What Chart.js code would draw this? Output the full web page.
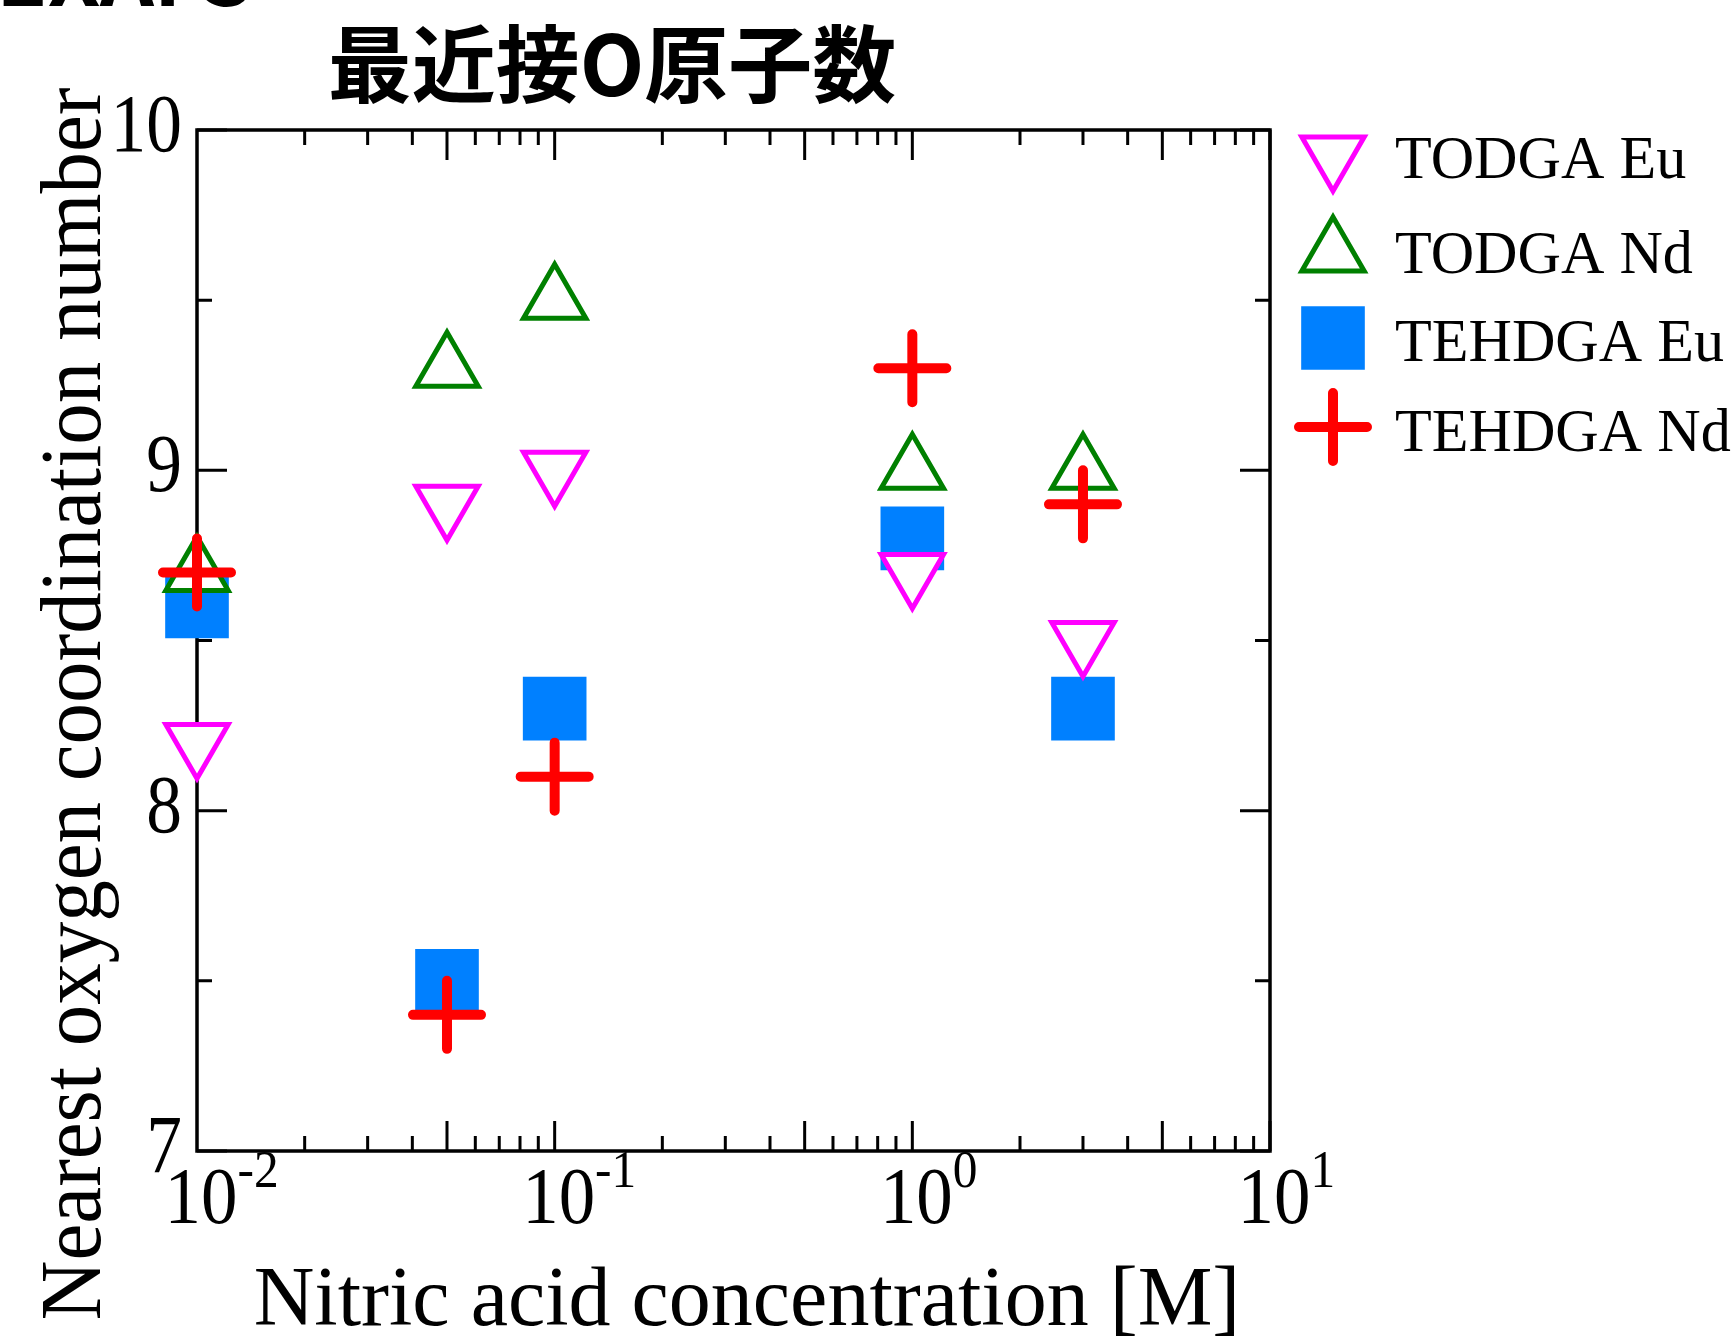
<!DOCTYPE html>
<html>
<head>
<meta charset="utf-8">
<title>最近接O原子数</title>
<script src="https://cdn.jsdelivr.net/npm/chart.js@4.4.1/dist/chart.umd.min.js"></script>
<style>
  html, body { margin: 0; padding: 0; background: #fff; }
  #wrap { width: 1736px; height: 1337px; position: relative; }
</style>
</head>
<body>
<div id="wrap"><canvas id="grafico"></canvas></div>
<script>
// nitric acid concentration [M]
const conc = [0.01, 0.05, 0.1, 1, 3];
// nearest oxygen coordination number
const todgaEu = [8.2, 8.9, 9.0, 8.7, 8.5];
const todgaNd = [8.7, 9.3, 9.5, 9.0, 9.0];
const tehdgaEu = [8.6, 7.5, 8.3, 8.8, 8.3];
const tehdgaNd = [8.7, 7.4, 8.1, 9.3, 8.9];
const seriesNames = ['TODGA Eu', 'TODGA Nd', 'TEHDGA Eu', 'TEHDGA Nd'];

const xDecades = [0.01, 0.1, 1, 10];
const xExponents = ['-2', '-1', '0', '1'];
const yTicks = [7, 8, 9, 10];
const yLabels = ['7', '8', '9', '10'];

const titleText = '最近接O原子数';
const topText = 'EXAFS';
const xTitle = 'Nitric acid concentration [M]';
const yTitle = 'Nearest oxygen coordination number';

const serif = '"Liberation Serif", "Times New Roman", serif';
const gothic = '"Noto Sans CJK JP", "Noto Sans", sans-serif';

function pts(ys) {
    return conc.map((x, i) => ({ x: x, y: ys[i] }));
}

// marker look, same in plot and legend
const styles = [
    { pointStyle: 'triangle', rotation: 180, radius: 36, borderWidth: 5, borderColor: '#ff00ff', backgroundColor: '#ffffff', order: 1 },
    { pointStyle: 'triangle', rotation: 0, radius: 36, borderWidth: 5, borderColor: '#008000', backgroundColor: '#ffffff', order: 2 },
    { pointStyle: 'rect', rotation: 0, radius: 45, borderWidth: 0, borderColor: '#0080ff', backgroundColor: '#0080ff', order: 3 },
    { pointStyle: 'cross', rotation: 0, radius: 34, borderWidth: 10, borderColor: '#ff0000', backgroundColor: '#ff0000', order: 0 }
];
const seriesData = [todgaEu, todgaNd, tehdgaEu, tehdgaNd];

function text(ctx, str, x, y, font, align, sx) {
    ctx.save();
    ctx.font = font;
    ctx.textAlign = align;
    ctx.textBaseline = 'alphabetic';
    ctx.fillStyle = '#000';
    ctx.translate(x, y);
    ctx.scale(sx || 1, 1);
    ctx.fillText(str, 0, 0);
    ctx.restore();
}

function textWidth(ctx, str, font, sx) {
    ctx.save();
    ctx.font = font;
    const w = ctx.measureText(str).width * (sx || 1);
    ctx.restore();
    return w;
}

const framePlugin = {
    id: 'frame',
    beforeDatasetsDraw(chart) {
        const ctx = chart.ctx;
        const a = chart.chartArea;
        const xs = chart.scales.x;
        const ys = chart.scales.y;
        ctx.save();
        ctx.strokeStyle = '#000';
        ctx.lineWidth = 3;
        ctx.beginPath();
        for (let e = -2; e < 1; e++) {
            for (let k = 2; k <= 10; k++) {
                const px = xs.getPixelForValue(k * Math.pow(10, e));
                const len = (k === 5 || k === 10) ? 30 : 15;
                ctx.moveTo(px, a.bottom);
                ctx.lineTo(px, a.bottom - len);
                ctx.moveTo(px, a.top);
                ctx.lineTo(px, a.top + len);
            }
        }
        for (let v = 7; v <= 10; v += 0.5) {
            const py = ys.getPixelForValue(v);
            const len = Number.isInteger(v) ? 30 : 15;
            ctx.moveTo(a.left, py);
            ctx.lineTo(a.left + len, py);
            ctx.moveTo(a.right, py);
            ctx.lineTo(a.right - len, py);
        }
        ctx.stroke();
        ctx.lineWidth = 3.5;
        ctx.strokeRect(a.left, a.top, a.right - a.left, a.bottom - a.top);
        ctx.restore();
        ctx.lineCap = 'round';
    },
    afterDraw(chart) {
        const ctx = chart.ctx;
        const a = chart.chartArea;
        const xs = chart.scales.x;
        const ys = chart.scales.y;

        // titles
        text(ctx, topText, -4, 6, 'bold 84px ' + gothic, 'left', 1);
        text(ctx, titleText, 612, 96, 'bold 84px ' + gothic, 'center', 1);

        // y tick labels
        yTicks.forEach((v, i) => {
            text(ctx, yLabels[i], 182, ys.getPixelForValue(v) + 21, '83px ' + serif, 'right', 0.86);
        });

        // x tick labels 10^n
        xDecades.forEach((v, i) => {
            const px = xs.getPixelForValue(v) + 4;
            const base = '81px ' + serif;
            const w = textWidth(ctx, '10', base, 0.9);
            text(ctx, '10', px, a.bottom + 72, base, 'center', 0.9);
            text(ctx, xExponents[i], px + w / 2, a.bottom + 36, '52px ' + serif, 'left', 0.95);
        });

        // axis titles
        text(ctx, xTitle, 747, 1325, '84px ' + serif, 'center', 1);
        ctx.save();
        ctx.translate(100, 704);
        ctx.rotate(-Math.PI / 2);
        text(ctx, yTitle, 0, 0, '86px ' + serif, 'center', 0.965);
        ctx.restore();

        // legend
        const markY = [155, 253, 338, 427];
        const textY = [178, 273, 361, 451];
        seriesNames.forEach((name, i) => {
            const s = styles[i];
            ctx.save();
            ctx.lineCap = 'round';
            ctx.fillStyle = s.backgroundColor;
            ctx.strokeStyle = s.borderColor;
            ctx.lineWidth = s.borderWidth;
            Chart.helpers.drawPoint(ctx, {
                pointStyle: s.pointStyle,
                rotation: s.rotation,
                radius: s.radius,
                borderWidth: s.borderWidth
            }, 1333, markY[i]);
            ctx.restore();
            text(ctx, name, 1395, textY[i], '62px ' + serif, 'left', 0.97);
        });
    }
};

const datasets = seriesNames.map((name, i) => {
    const s = styles[i];
    return {
        label: name,
        data: pts(seriesData[i]),
        pointStyle: s.pointStyle,
        pointRotation: s.rotation,
        pointRadius: s.radius,
        pointHoverRadius: s.radius,
        pointBorderWidth: s.borderWidth,
        pointBorderColor: s.borderColor,
        pointBackgroundColor: s.backgroundColor,
        showLine: false,
        clip: false,
        order: s.order
    };
});

new Chart(document.getElementById('grafico'), {
    type: 'scatter',
    data: { datasets },
    options: {
        responsive: true,
        maintainAspectRatio: false,
        devicePixelRatio: 1,
        animation: false,
        layout: { padding: { left: 197, right: 466, top: 130, bottom: 186 } },
        plugins: {
            legend: { display: false },
            tooltip: { enabled: false }
        },
        scales: {
            x: { type: 'logarithmic', min: 0.01, max: 10, display: false },
            y: { type: 'linear', min: 7, max: 10, display: false }
        }
    },
    plugins: [framePlugin]
});
</script>
</body>
</html>
